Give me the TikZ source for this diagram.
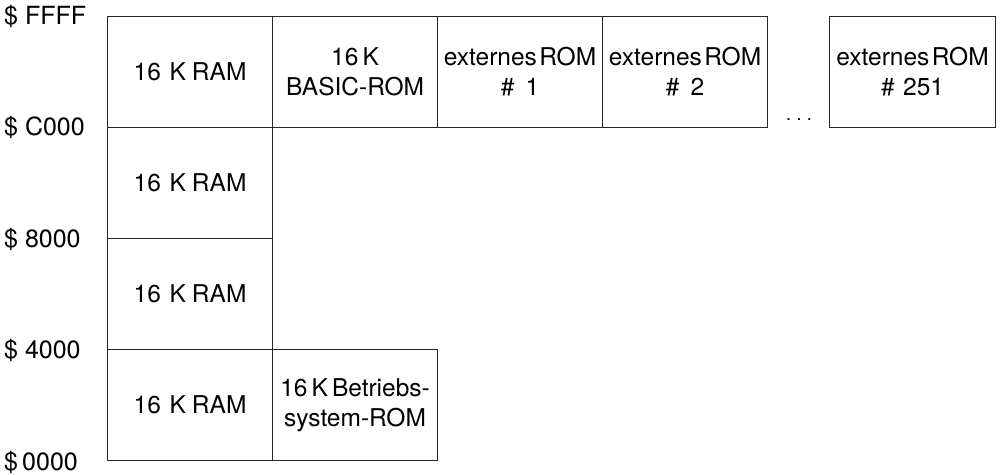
\documentclass[tikz,border=0pt]{standalone}
\usepackage{fontspec}
\setmainfont{TeX Gyre Heros}
\begin{document}
\begin{tikzpicture}[x=1pt,y=-1pt,
  memblock/.style={draw=black!85, line width=1.1pt, minimum width=#1, minimum height=111pt,
    inner sep=0pt, align=center, font=\fontsize{24.5}{30}\selectfont, anchor=north west},
  memblock/.default=165pt,
  addr/.style={anchor=west, inner sep=0pt, font=\fontsize{25}{28}\selectfont}]
  \useasboundingbox (0,0) rectangle (1001,474);

  % address column
  \node[addr] (aFFFF) at (4,16)  {\$ FFFF};
  \node[addr] (aC000) at (4,127) {\$ C000};
  \node[addr] (a8000) at (4,239) {\$ 8000};
  \node[addr] (a4000) at (4,350) {\$ 4000};
  \node[addr] (a0000) at (4,462) {\$\,0000};

  % bank 0: RAM stack
  \node[memblock] (ram3) at (107,16)  {16\hspace{0.35em}K\hspace{0.25em}RAM};
  \node[memblock] (ram2) at (107,127) {16\hspace{0.35em}K\hspace{0.25em}RAM};
  \node[memblock] (ram1) at (107,238) {16\hspace{0.35em}K\hspace{0.25em}RAM};
  \node[memblock] (ram0) at (107,349) {16\hspace{0.35em}K\hspace{0.25em}RAM};

  % ROM banks
  \node[memblock] (basic) at (272,16) {16\,K\\BASIC-ROM};
  \node[memblock] (os) at (272,349) {16\,K\,Betriebs-\\system-ROM};
  \node[memblock] (ext1) at (437,16) {externes\hspace{0.1em}ROM\\\#\hspace{0.45em}1};
  \node[memblock] (ext2) at (602,16) {externes\hspace{0.1em}ROM\\\#\hspace{0.45em}2};
  \node[memblock=166pt] (ext251) at (829,16) {externes\hspace{0.1em}ROM\\\#\hspace{0.35em}251};

  \node[inner sep=0pt, font=\fontsize{18}{18}\selectfont] (dots) at (799,120) {.\hspace{0.3em}.\hspace{0.3em}.};
\end{tikzpicture}
\end{document}
